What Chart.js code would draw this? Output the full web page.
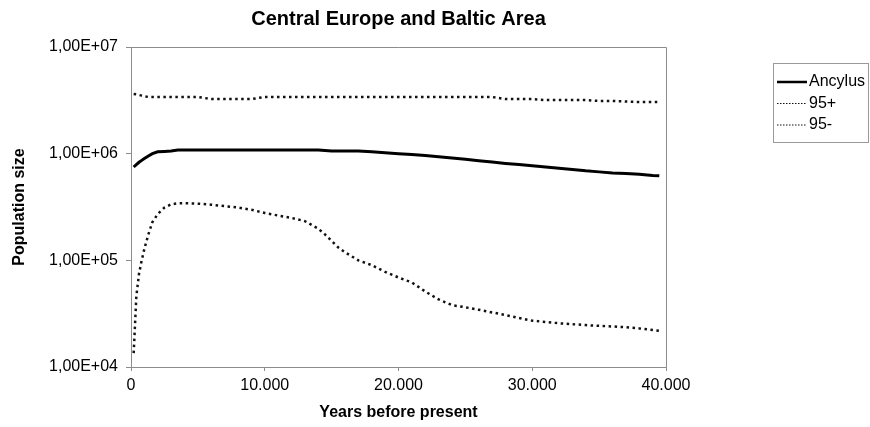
<!DOCTYPE html>
<html>
<head>
<meta charset="utf-8">
<script src="https://cdn.jsdelivr.net/npm/chart.js@4/dist/chart.umd.min.js"></script>
<style>
  html, body { margin: 0; padding: 0; background: #ffffff; }
  canvas { display: block; }
</style>
</head>
<body>
<canvas id="chart" width="870" height="427"></canvas>
<script>
// Years before present (shared x values for all three series)
const years = [200, 400, 600, 800, 1000, 1300, 1600, 2000, 2500, 3000, 3500, 4000,
  5000, 6000, 7000, 8000, 9000, 10000, 11000, 12000, 13000, 14000, 14500, 15000,
  15500, 16000, 17000, 18000, 19000, 20000, 21000, 22000, 23000, 24000, 25000,
  26000, 27000, 28000, 29000, 30000, 31000, 32000, 33000, 34000, 35000, 36000,
  37000, 38000, 39000, 39500];

// Median population size
const ancylus = [7.5e5, 7.9e5, 8.3e5, 8.65e5, 9.0e5, 9.5e5, 1.0e6, 1.04e6, 1.05e6, 1.06e6, 1.08e6, 1.08e6,
  1.08e6, 1.08e6, 1.08e6, 1.08e6, 1.08e6, 1.08e6, 1.08e6, 1.08e6, 1.08e6, 1.08e6, 1.07e6, 1.06e6,
  1.06e6, 1.06e6, 1.06e6, 1.04e6, 1.02e6, 1.0e6, 9.8e5, 9.6e5, 9.35e5, 9.1e5, 8.85e5,
  8.6e5, 8.35e5, 8.1e5, 7.9e5, 7.7e5, 7.5e5, 7.3e5, 7.1e5, 6.9e5, 6.75e5, 6.6e5,
  6.5e5, 6.4e5, 6.25e5, 6.2e5];

// Upper 95% bound
const upper95 = [3.63e6, 3.6e6, 3.55e6, 3.5e6, 3.45e6, 3.4e6, 3.4e6, 3.4e6, 3.4e6, 3.4e6, 3.4e6, 3.4e6,
  3.4e6, 3.25e6, 3.25e6, 3.25e6, 3.25e6, 3.4e6, 3.4e6, 3.4e6, 3.4e6, 3.4e6, 3.4e6, 3.4e6,
  3.4e6, 3.4e6, 3.4e6, 3.4e6, 3.4e6, 3.4e6, 3.4e6, 3.4e6, 3.4e6, 3.4e6, 3.4e6,
  3.4e6, 3.4e6, 3.25e6, 3.25e6, 3.25e6, 3.18e6, 3.18e6, 3.18e6, 3.18e6, 3.12e6, 3.12e6,
  3.08e6, 3.05e6, 3.05e6, 3.05e6];

// Lower 95% bound
const lower95 = [1.35e4, 4.6e4, 7.5e4, 1.0e5, 1.28e5, 1.75e5, 2.28e5, 2.72e5, 3.12e5, 3.35e5, 3.42e5, 3.43e5,
  3.4e5, 3.32e5, 3.22e5, 3.13e5, 2.98e5, 2.78e5, 2.63e5, 2.5e5, 2.33e5, 1.98e5, 1.75e5, 1.52e5,
  1.32e5, 1.19e5, 1.0e5, 9.0e4, 7.8e4, 6.9e4, 6.2e4, 5.1e4, 4.3e4, 3.8e4, 3.63e4,
  3.44e4, 3.25e4, 3.07e4, 2.88e4, 2.72e4, 2.64e4, 2.57e4, 2.52e4, 2.47e4, 2.43e4, 2.4e4,
  2.36e4, 2.3e4, 2.22e4, 2.18e4];

const seriesNames = ['Ancylus', '95+', '95-'];
const xTicks = [0, 10000, 20000, 30000, 40000];
const yTicks = [1e4, 1e5, 1e6, 1e7];

const FONT = '"Liberation Sans", Arial, sans-serif';
const AXIS_GREY = '#8c8c8c';

function sciLabel(v) {
  const e = Math.round(Math.log10(v));
  const m = v / Math.pow(10, e);
  return m.toFixed(2).replace('.', ',') + 'E' + (e < 0 ? '-' : '+') + String(Math.abs(e)).padStart(2, '0');
}
function thousands(v) {
  return String(v).replace(/\B(?=(\d{3})+(?!\d))/g, '.');
}
function points(vals) {
  return years.map((x, i) => ({ x: x, y: vals[i] }));
}

// Grey frame on the top and right of the plot area
const plotFrame = {
  id: 'plotFrame',
  beforeDatasetsDraw(chart) {
    const { ctx, chartArea: a } = chart;
    ctx.save();
    ctx.strokeStyle = AXIS_GREY;
    ctx.lineWidth = 1;
    ctx.beginPath();
    ctx.moveTo(a.left, a.top + 0.5);
    ctx.lineTo(a.right + 0.5, a.top + 0.5);
    ctx.lineTo(a.right + 0.5, a.bottom);
    ctx.stroke();
    ctx.restore();
  }
};

// Boxed legend to the right of the plot
const boxLegend = {
  id: 'boxLegend',
  afterDraw(chart, args, opts) {
    const ctx = chart.ctx;
    ctx.save();
    ctx.strokeStyle = opts.borderColor;
    ctx.lineWidth = 1;
    ctx.strokeRect(opts.left + 0.5, opts.top + 0.5, opts.width, opts.height);
    chart.data.datasets.forEach((ds, i) => {
      const y = opts.top + opts.firstRow + i * opts.rowGap;
      ctx.beginPath();
      ctx.strokeStyle = ds.borderColor;
      ctx.lineWidth = ds.borderWidth === 3 ? 2.5 : 1.2;
      ctx.setLineDash(ds.borderDash && ds.borderDash.length ? [1.5, 1.5] : []);
      ctx.moveTo(opts.left + opts.lineStart, y);
      ctx.lineTo(opts.left + opts.lineStart + opts.lineLength, y);
      ctx.stroke();
      ctx.setLineDash([]);
      ctx.fillStyle = '#000';
      ctx.font = '16px ' + FONT;
      ctx.textBaseline = 'middle';
      ctx.textAlign = 'left';
      ctx.fillText(ds.label, opts.left + opts.lineStart + opts.lineLength + 2, y);
    });
    ctx.restore();
  }
};

const dotted = [2.5, 3.5];

new Chart(document.getElementById('chart'), {
  type: 'line',
  data: {
    datasets: [
      { label: seriesNames[0], data: points(ancylus), borderColor: '#000', borderWidth: 3,
        pointRadius: 0, tension: 0, fill: false },
      { label: seriesNames[1], data: points(upper95), borderColor: '#111', borderWidth: 2.5,
        borderDash: dotted, pointRadius: 0, tension: 0, fill: false },
      { label: seriesNames[2], data: points(lower95), borderColor: '#111', borderWidth: 2.5,
        borderDash: dotted, pointRadius: 0, tension: 0, fill: false }
    ]
  },
  options: {
    responsive: false,
    animation: false,
    layout: { padding: { left: 0, top: 0, right: 204, bottom: 0 } },
    plugins: {
      legend: { display: false },
      tooltip: { enabled: false },
      title: {
        display: true,
        fullSize: false,
        text: 'Central Europe and Baltic Area',
        color: '#000',
        font: { family: FONT, size: 20, weight: 'bold' },
        padding: { top: 7, bottom: 16 }
      },
      boxLegend: {
        left: 773, top: 63, width: 95, height: 79,
        firstRow: 19, rowGap: 21.5, lineStart: 4, lineLength: 30,
        borderColor: '#9a9a9a'
      }
    },
    scales: {
      x: {
        type: 'linear',
        min: 0, max: 40000,
        afterFit(scale) { scale.height = 60; },
        afterBuildTicks(scale) { scale.ticks = xTicks.map(v => ({ value: v })); },
        border: { display: true, color: AXIS_GREY, width: 1 },
        grid: { drawOnChartArea: false, drawTicks: true, tickLength: 4, color: AXIS_GREY },
        ticks: {
          color: '#000', padding: 5, maxRotation: 0,
          font: { family: FONT, size: 16 },
          callback: v => thousands(v)
        },
        title: {
          display: true, text: 'Years before present', color: '#000',
          font: { family: FONT, size: 16, weight: 'bold' },
          padding: { top: 0, bottom: 5 }
        }
      },
      y: {
        type: 'logarithmic',
        min: 1e4, max: 1e7,
        afterFit(scale) { scale.width = 131; },
        afterBuildTicks(scale) { scale.ticks = yTicks.map(v => ({ value: v })); },
        border: { display: true, color: AXIS_GREY, width: 1 },
        grid: { drawOnChartArea: false, drawTicks: true, tickLength: 5, color: AXIS_GREY },
        ticks: {
          color: '#000', padding: 8,
          font: { family: FONT, size: 16 },
          callback: v => sciLabel(v)
        },
        title: {
          display: true, text: 'Population size', color: '#000',
          font: { family: FONT, size: 16, weight: 'bold' },
          padding: { top: 10, bottom: 0 }
        }
      }
    }
  },
  plugins: [plotFrame, boxLegend]
});
</script>
</body>
</html>
